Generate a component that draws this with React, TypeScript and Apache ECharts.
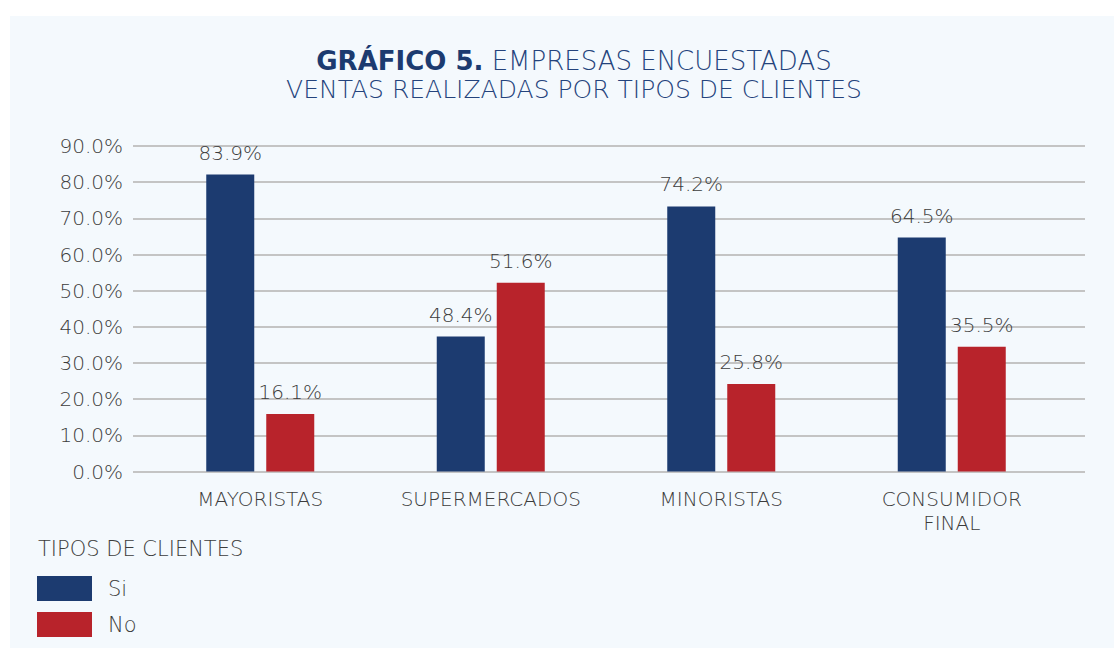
import React, { useEffect, useRef } from "react";
import * as echarts from "echarts";

const categories = ["MAYORISTAS", "SUPERMERCADOS", "MINORISTAS", "CONSUMIDOR\nFINAL"];
const seriesNames = ["Si", "No"];
// bar heights as drawn in the picture (percent)
const siValues = [82.1, 37.3, 73.3, 64.7];
const noValues = [15.9, 52.2, 24.2, 34.5];
// printed value labels
const siLabels = ["83.9%", "48.4%", "74.2%", "64.5%"];
const noLabels = ["16.1%", "51.6%", "25.8%", "35.5%"];
const titleBold = "GRÁFICO 5.";
const titleRest = " EMPRESAS ENCUESTADAS";
const subtitle = "VENTAS REALIZADAS POR TIPOS DE CLIENTES";
const legendTitle = "TIPOS DE CLIENTES";

const FONT = "'DejaVu Sans ExtraLight', 'DejaVu Sans', sans-serif";
const FONT_BOLD = "'DejaVu Sans', sans-serif";
const BLUE = "#1c3b70";
const RED = "#b8232b";
const GRAY = "#3c3c3c";
const TITLE_BLUE = "#24437c";

export default function App() {
  const ref = useRef<HTMLDivElement>(null);
  useEffect(() => {
    if (!ref.current) return;
    const chart = echarts.init(ref.current, null, { renderer: "svg" });
    const mkSeries = (name: string, vals: number[], labels: string[], color: string) => ({
      name,
      type: "bar",
      xAxisIndex: 1,
      yAxisIndex: 1,
      data: vals,
      barWidth: 48,
      barGap: "25%",
      itemStyle: { color },
      label: {
        show: true,
        position: "top",
        distance: 12,
        color: GRAY,
        fontFamily: FONT,
        fontWeight: 300,
        fontSize: 20,
        formatter: (p: any) => labels[p.dataIndex],
      },
    });
    const textStyle = { fontFamily: FONT, fontWeight: 300, color: GRAY };
    chart.setOption({
      animation: false,
      backgroundColor: "#ffffff",
      title: {
        text: `{b|${titleBold}}{n|${titleRest}}\n{s|${subtitle}}`,
        left: 569,
        textAlign: "center",
        top: 40,
        textStyle: {
          rich: {
            b: { fontFamily: FONT_BOLD, fontSize: 26, fontWeight: "bold", color: BLUE, lineHeight: 31 },
            n: { fontFamily: FONT, fontSize: 26, fontWeight: 300, color: TITLE_BLUE, lineHeight: 31 },
            s: { fontFamily: FONT, fontSize: 25, fontWeight: 300, color: TITLE_BLUE, lineHeight: 27 },
          },
        },
      },
      graphic: [
        {
          type: "rect",
          z: -10,
          silent: true,
          shape: { x: 10, y: 16, width: 1104, height: 632 },
          style: { fill: "#f4f9fd" },
        },
        {
          type: "text",
          left: 38,
          top: 538,
          style: { text: legendTitle, ...textStyle, fontSize: 21, fill: GRAY },
        },
      ],
      legend: {
        orient: "vertical",
        left: 32,
        top: 571,
        itemWidth: 55,
        itemHeight: 25,
        itemGap: 11,
        icon: "rect",
        data: seriesNames,
        textStyle: { ...textStyle, fontSize: 21, padding: [0, 0, 0, 11] },
      },
      grid: [
        { left: 133, right: 29, top: 146, bottom: 178.5, containLabel: false },
        { left: 145, right: 47, top: 146, bottom: 178.5, containLabel: false },
      ],
      xAxis: [
        {
          type: "category",
          gridIndex: 0,
          data: categories,
          show: false,
        },
        {
          type: "category",
          gridIndex: 1,
          data: categories,
          axisLine: { show: false },
          axisTick: { show: false },
          axisLabel: { ...textStyle, fontSize: 20, margin: 15, lineHeight: 24, interval: 0 },
        },
      ],
      yAxis: [
        {
          type: "value",
          gridIndex: 0,
          min: 0,
          max: 90,
          interval: 10,
          axisLine: { show: false },
          axisTick: { show: false },
          splitLine: { lineStyle: { color: "#c4c4c4", width: 2 } },
          axisLabel: {
            ...textStyle,
            fontSize: 20,
            margin: 10,
            formatter: (v: number) => v.toFixed(1) + "%",
          },
        },
        {
          type: "value",
          gridIndex: 1,
          min: 0,
          max: 90,
          interval: 10,
          show: false,
          splitLine: { show: false },
        },
      ],
      series: [
        mkSeries(seriesNames[0], siValues, siLabels, BLUE),
        mkSeries(seriesNames[1], noValues, noLabels, RED),
      ],
    });
    return () => chart.dispose();
  }, []);
  return (
    <div
      ref={ref}
      style={{ position: "fixed", left: 0, top: 0, width: 1114, height: 650 }}
    />
  );
}
